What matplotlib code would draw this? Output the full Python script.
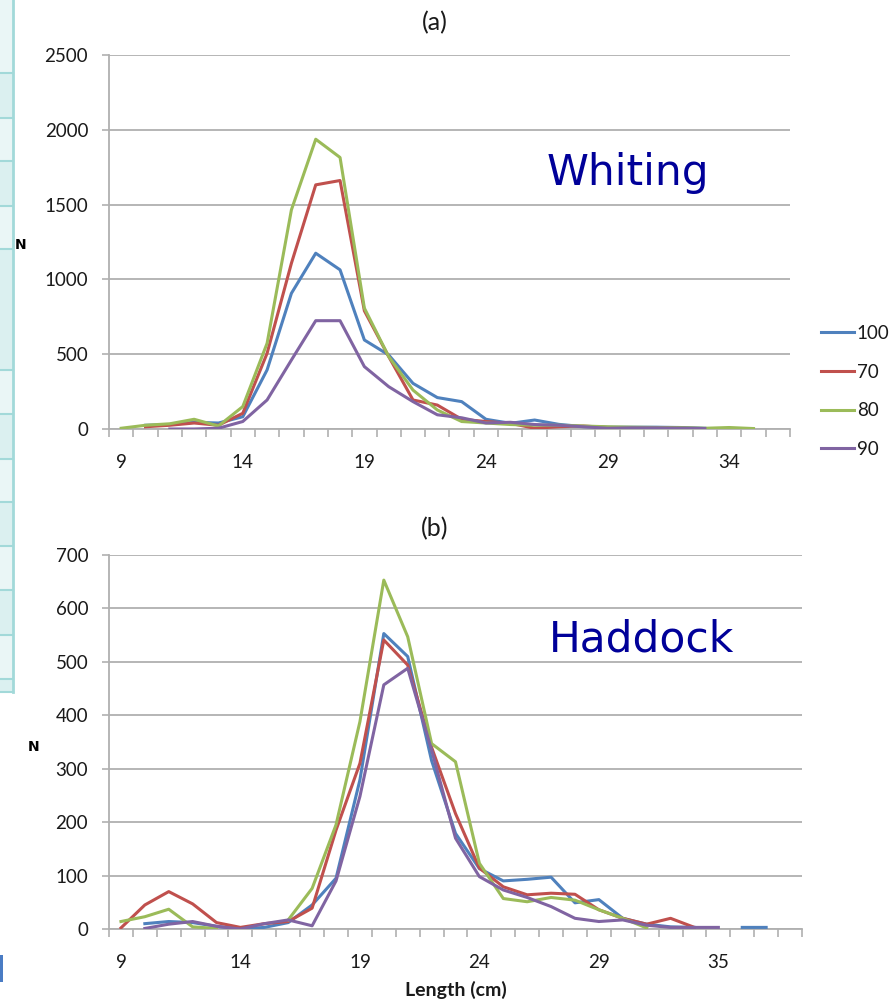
import numpy as np
import matplotlib
matplotlib.use("Agg")
import matplotlib.pyplot as plt
from matplotlib.patches import Rectangle
from matplotlib.lines import Line2D

nan = np.nan

# ---- (a) Whiting: length classes 9..36 cm ----
whiting_len = list(range(9, 37))
whiting_100 = [nan, 25, 30, 45, 40, 82, 395, 907, 1175, 1064, 595, 495, 305, 210,
               183, 65, 38, 60, 31, 16, 12, 12, 12, 10, 5, nan, nan, nan]
whiting_70 = [nan, 15, 25, 40, 25, 105, 506, 1108, 1632, 1661, 790, 484, 194, 160,
              65, 50, 38, 5, 15, 20, 10, 8, 8, 5, 3, nan, nan, nan]
whiting_80 = [5, 25, 35, 65, 20, 150, 573, 1465, 1937, 1815, 808, 484, 260, 127,
              50, 40, 30, 25, 25, 20, 15, 12, 10, 8, 5, 10, 3, nan]
whiting_90 = [nan, nan, 0, 0, 5, 50, 194, 461, 724, 724, 417, 283, 183, 95,
              75, 40, 45, 30, 25, 15, 5, 8, 8, 5, 3, nan, nan, nan]

# ---- (b) Haddock: length classes (34 cm absent) ----
haddock_len = [str(v) for v in range(9, 34)] + ["35", "36", "37", "38"]
haddock_100 = [nan, 10, 14, 12, 5, 0, 3, 12, 45, 95, 279, 553, 510, 315, 179, 113,
               90, 93, 97, 49, 55, 20, 9, 4, 3, nan, 3, 3, nan]
haddock_70 = [2, 45, 70, 47, 12, 3, 10, 14, 39, 185, 310, 541, 494, 340, 216, 114,
              79, 64, 67, 65, 36, 20, 9, 20, 3, nan, nan, nan, nan]
haddock_80 = [14, 23, 37, 4, 1, nan, nan, 17, 76, 195, 388, 653, 547, 347, 313, 123,
              57, 51, 59, 54, 36, 20, 2, nan, nan, nan, nan, nan, nan]
haddock_90 = [nan, 1, 9, 14, 5, 0, 10, 17, 6, 90, 248, 457, 488, 335, 170, 98,
              73, 59, 42, 20, 14, 17, 7, 3, 3, 3, nan, nan, nan]

series_names = ["100", "70", "80", "90"]
series_colors = ["#4F81BD", "#C0504D", "#9BBB59", "#8064A2"]

W, H = 891, 1002
fig = plt.figure(figsize=(W / 100, H / 100), dpi=100)
fig.patch.set_facecolor("white")


def fx(px):
    return px / W


def fy(py):
    return 1 - py / H


TICK_FONT = "Lato"
TEXT_COL = "#1a1a1a"
GRID = "#b0b0b0"

# ---- table edge on the left of the slide ----
rows = [0, 73, 118, 161, 206, 249, 370, 414, 459, 502, 546, 590, 635, 679, 692]
for k in range(len(rows) - 1):
    col = "#eaf6f6" if k % 2 == 0 else "#dbf0f0"
    fig.patches.append(Rectangle((0, fy(rows[k + 1])), fx(13), (rows[k + 1] - rows[k]) / H,
                                 transform=fig.transFigure, facecolor=col,
                                 edgecolor="none", zorder=0))
    fig.lines.append(Line2D([0, fx(13)], [fy(rows[k + 1]), fy(rows[k + 1])],
                            transform=fig.transFigure, color="#a2d9d9", lw=1.5))
fig.lines.append(Line2D([fx(13), fx(13)], [fy(0), fy(692)], transform=fig.transFigure,
                        color="#a2d9d9", lw=2))
fig.patches.append(Rectangle((0, fy(982)), fx(3), 27 / H, transform=fig.transFigure,
                             facecolor="#4a7cc4", edgecolor="none"))


def style_axis(ax, ymax, ystep):
    ax.set_ylim(0, ymax)
    ax.set_yticks(np.arange(0, ymax + 1, ystep))
    ax.grid(axis="y", color=GRID, lw=1.3, zorder=0)
    ax.set_axisbelow(True)
    for s in ("top", "right"):
        ax.spines[s].set_visible(False)
    for s in ("left", "bottom"):
        ax.spines[s].set_color(GRID)
        ax.spines[s].set_linewidth(1.3)
    ax.tick_params(axis="y", length=5, width=1.2, color=GRID, pad=10,
                   labelsize=13.5, labelcolor=TEXT_COL)
    ax.tick_params(axis="x", which="major", length=0, pad=18,
                   labelsize=13.5, labelcolor=TEXT_COL)
    ax.tick_params(axis="x", which="minor", length=6, width=1.2, color=GRID)
    for lab in ax.get_xticklabels() + ax.get_yticklabels():
        lab.set_fontfamily(TICK_FONT)


# ---- panel (a) ----
ax1 = fig.add_axes([fx(109), fy(429), fx(790) - fx(109), (429 - 55) / H])
for vals, name, col in zip([whiting_100, whiting_70, whiting_80, whiting_90],
                           series_names, series_colors):
    ax1.plot(whiting_len, vals, color=col, lw=2.2, label=name, zorder=3)
ax1.set_xlim(whiting_len[0] - 0.5, whiting_len[-1] + 0.5)
ax1.set_xticks(whiting_len[::5])
ax1.set_xticklabels([str(v) for v in whiting_len[::5]])
ax1.set_xticks(np.arange(whiting_len[0] - 0.5, whiting_len[-1] + 1, 1), minor=True)
style_axis(ax1, 2500, 500)
ax1.text(0.762, 0.685, "Whiting", transform=ax1.transAxes, ha="center", va="center",
         fontsize=30.5, color="#000099", family="DejaVu Sans")

leg = ax1.legend(loc="upper left", bbox_to_anchor=(fx(821), fy(325)),
                 bbox_transform=fig.transFigure, frameon=False, borderpad=0,
                 borderaxespad=0, handlelength=1.75, handletextpad=0.15,
                 labelspacing=1.15, prop={"family": TICK_FONT, "size": 13.5})
for t in leg.get_texts():
    t.set_color(TEXT_COL)

# ---- panel (b) ----
ax2 = fig.add_axes([fx(109), fy(929), fx(802) - fx(109), (929 - 555) / H])
idx = np.arange(len(haddock_len))
for vals, name, col in zip([haddock_100, haddock_70, haddock_80, haddock_90],
                           series_names, series_colors):
    ax2.plot(idx, vals, color=col, lw=2.2, label=name, zorder=3)
ax2.set_xlim(-0.5, len(haddock_len) - 0.5)
ax2.set_xticks(idx[::5])
ax2.set_xticklabels(haddock_len[::5])
ax2.set_xticks(np.arange(-0.5, len(haddock_len), 1), minor=True)
style_axis(ax2, 700, 100)
ax2.text(0.769, 0.775, "Haddock", transform=ax2.transAxes, ha="center", va="center",
         fontsize=30.5, color="#000099", family="DejaVu Sans")

# ---- titles and axis labels ----
fig.text(fx(435), fy(23), "(a)", ha="center", va="center", fontsize=18,
         family=TICK_FONT, color=TEXT_COL)
fig.text(fx(435), fy(529), "(b)", ha="center", va="center", fontsize=18,
         family=TICK_FONT, color=TEXT_COL)
fig.text(fx(21), fy(245), "N", ha="center", va="center", fontsize=10,
         fontweight="bold", family="DejaVu Sans")
fig.text(fx(34), fy(747), "N", ha="center", va="center", fontsize=10,
         fontweight="bold", family="DejaVu Sans")
fig.text(fx(456), fy(990), "Length (cm)", ha="center", va="center", fontsize=14,
         fontweight="bold", family=TICK_FONT, color=TEXT_COL)

fig.savefig("out.png", dpi=100)
